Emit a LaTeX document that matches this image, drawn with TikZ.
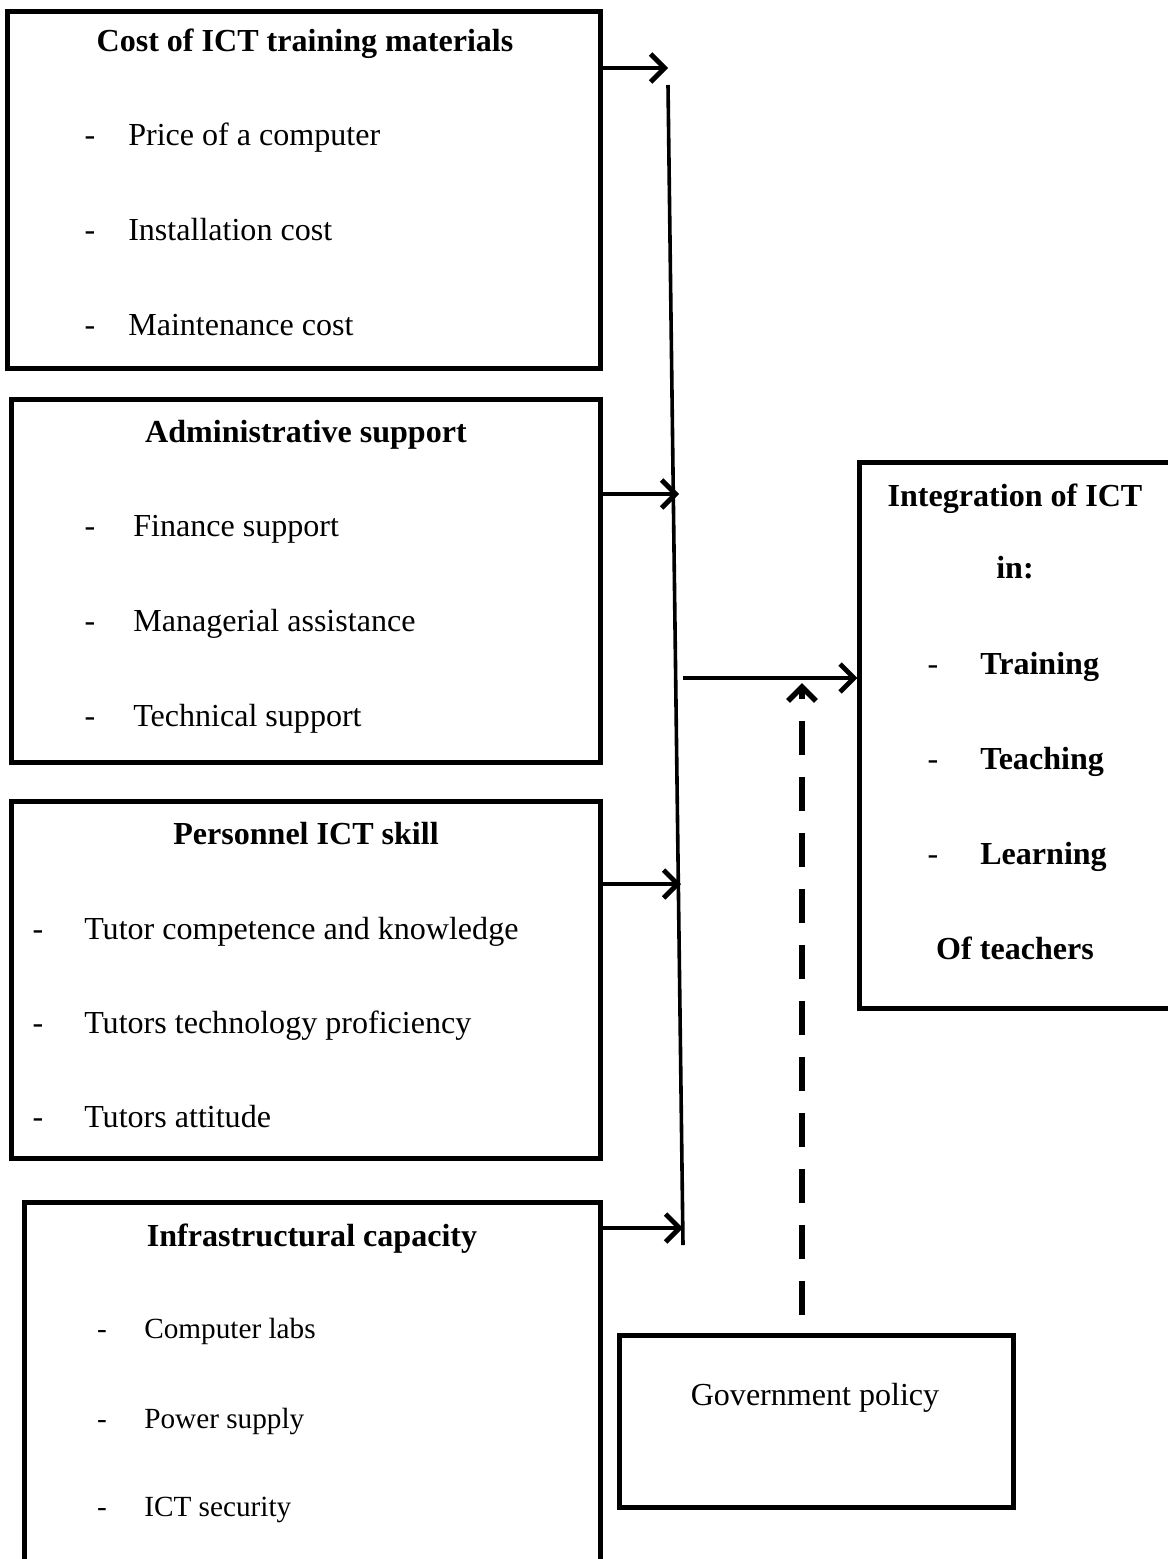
\documentclass[tikz,border=0pt]{standalone}
\usepackage{fontspec}
\setmainfont{Liberation Serif}
\usetikzlibrary{arrows.meta}

\begin{document}
\begin{tikzpicture}[x=0.025cm, y=-0.025cm,
  box/.style={draw, line width=0.125cm, inner sep=0pt},
  arr/.style={line width=0.12cm, -{Straight Barb[length=0.35cm,width=0.7cm]}},
  txt/.style={font=\fontsize{22.8}{26}\selectfont, inner sep=0pt, text height=1.5ex, text depth=0.25ex, yshift=-0.13cm},
  head/.style={txt, font=\bfseries\fontsize{22.8}{26}\selectfont},
  small/.style={txt, font=\fontsize{20.8}{24}\selectfont}]
\useasboundingbox (0,0) rectangle (1168,1559);

\node[box, minimum width=14.8cm, minimum height=8.9cm] (cost) at (304, 190) {};
\node[box, minimum width=14.7cm, minimum height=9.05cm] (admin) at (306, 581) {};
\node[box, minimum width=14.7cm, minimum height=8.9cm] (skill) at (306, 980) {};
\node[box, minimum width=14.375cm, minimum height=9.675cm] (infra) at (312.5, 1396.5) {};
\node[box, minimum width=8.5cm, minimum height=13.625cm] (integ) at (1030, 735.5) {};
\node[box, minimum width=9.825cm, minimum height=4.275cm] (policy) at (816.5, 1421.5) {};

\node[head] (costhead) at (305, 42) {Cost of ICT training materials};
\node[txt] (d11) at (90, 136) {-};
\node[txt, anchor=west] (c1) at (128, 136) {Price of a computer};
\node[txt] (d12) at (90, 231) {-};
\node[txt, anchor=west] (c2) at (128, 231) {Installation cost};
\node[txt] (d13) at (90, 326) {-};
\node[txt, anchor=west] (c3) at (128, 326) {Maintenance cost};

\node[head] (adminhead) at (306, 433) {Administrative support};
\node[txt] (d21) at (90, 527) {-};
\node[txt, anchor=west] (a1) at (133, 527) {Finance support};
\node[txt] (d22) at (90, 622) {-};
\node[txt, anchor=west] (a2) at (133, 622) {Managerial assistance};
\node[txt] (d23) at (90, 717) {-};
\node[txt, anchor=west] (a3) at (133, 717) {Technical support};

\node[head] (skillhead) at (306, 835) {Personnel ICT skill};
\node[txt] (d31) at (38, 930) {-};
\node[txt, anchor=west] (s1) at (84, 930) {Tutor competence and knowledge};
\node[txt] (d32) at (38, 1024) {-};
\node[txt, anchor=west] (s2) at (84, 1024) {Tutors technology proficiency};
\node[txt] (d33) at (38, 1118) {-};
\node[txt, anchor=west] (s3) at (84, 1118) {Tutors attitude};

\node[head] (infrahead) at (312, 1237) {Infrastructural capacity};
\node[small] (d41) at (102, 1329) {-};
\node[small, anchor=west] (i1) at (144, 1329) {Computer labs};
\node[small] (d42) at (102, 1419) {-};
\node[small, anchor=west] (i2) at (144, 1419) {Power supply};
\node[small] (d43) at (102, 1507) {-};
\node[small, anchor=west] (i3) at (144, 1507) {ICT security};

\node[head] (inthead) at (1015, 497) {Integration of ICT};
\node[head] (intin) at (1015, 569) {in:};
\node[txt] (d51) at (933, 665) {-};
\node[head, anchor=west] (g1) at (980, 665) {Training};
\node[txt] (d52) at (933, 760) {-};
\node[head, anchor=west] (g2) at (980, 760) {Teaching};
\node[txt] (d53) at (933, 855) {-};
\node[head, anchor=west] (g3) at (980, 855) {Learning};
\node[head] (intof) at (1015, 950) {Of teachers};

\node[txt] (policytext) at (815, 1396) {Government policy};

\coordinate (bustop) at (668, 85);
\coordinate (busbot) at (683, 1245);
\draw[line width=0.09cm] (bustop) -- (busbot);

\coordinate (b1) at (668, 68);
\coordinate (b2) at (679, 494);
\coordinate (b3) at (681, 884);
\coordinate (b4) at (683, 1228);
\draw[arr] (cost.east |- b1) -- (b1);
\draw[arr] (admin.east |- b2) -- (b2);
\draw[arr] (skill.east |- b3) -- (b3);
\draw[arr] (infra.east |- b4) -- (b4);

\coordinate (m) at (683, 678);
\draw[arr] (m) -- (m -| integ.west);

\coordinate (dtop) at (802, 683);
\draw[arr, line width=0.14cm, dash pattern=on 0.85cm off 0.55cm, shorten <=0.45cm] (dtop |- policy.north) -- (dtop);
\end{tikzpicture}
\end{document}
